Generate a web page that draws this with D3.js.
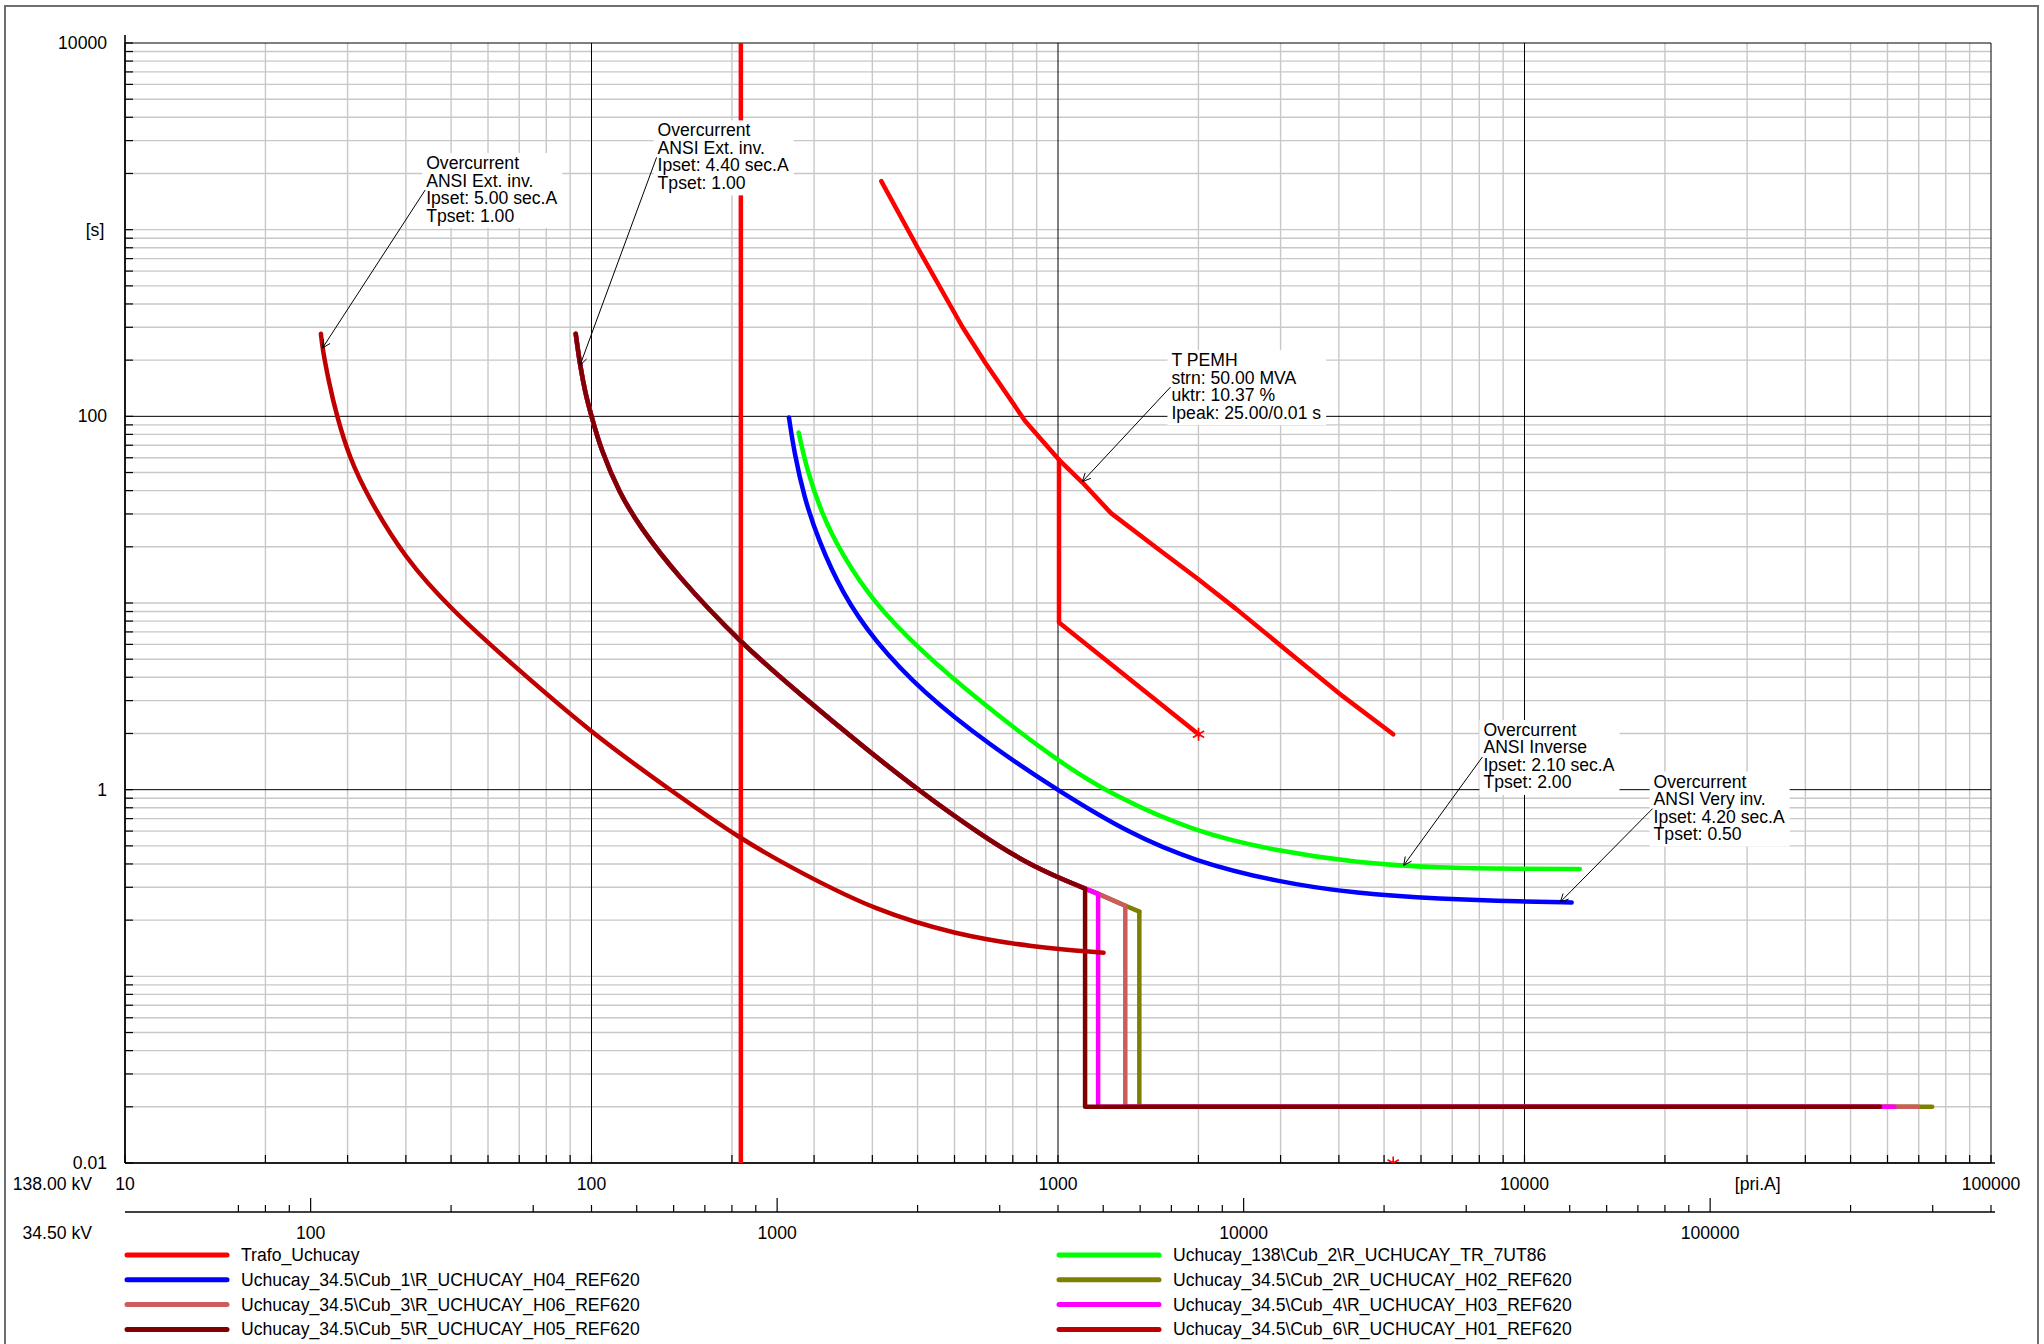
<!DOCTYPE html>
<html>
<head>
<meta charset="utf-8">
<script src="https://cdn.jsdelivr.net/npm/d3@7"></script>
<style>
body { margin: 0; background: #fff; }
text { font-family: "Liberation Sans", Arial, sans-serif; font-size: 17.6px; fill: #000; }
</style>
</head>
<body>
<div id="main"></div>
<script>
// ---- values (current in A at 138 kV, time in s) ----
var yLabelValues = [10000, 100, 1, 0.01];
var yLabelTexts = ["10000", "100", "1", "0.01"];
var xLabelValues = [10, 100, 1000, 10000, 100000];
var x2LabelValues = [100, 1000, 10000, 100000];
var voltageLabels = ["138.00 kV", "34.50 kV"];
var unitX = "[pri.A]";
var unitY = "[s]";

var seriesNames = [
  "Trafo_Uchucay",
  "Uchucay_138\\Cub_2\\R_UCHUCAY_TR_7UT86",
  "Uchucay_34.5\\Cub_1\\R_UCHUCAY_H04_REF620",
  "Uchucay_34.5\\Cub_2\\R_UCHUCAY_H02_REF620",
  "Uchucay_34.5\\Cub_3\\R_UCHUCAY_H06_REF620",
  "Uchucay_34.5\\Cub_4\\R_UCHUCAY_H03_REF620",
  "Uchucay_34.5\\Cub_5\\R_UCHUCAY_H05_REF620",
  "Uchucay_34.5\\Cub_6\\R_UCHUCAY_H01_REF620"
];
var seriesColors = ["#ff0000", "#00ff00", "#0000ff", "#808000", "#cd5c5c", "#ff00ff", "#800000", "#c00000"];

// transformer
var trafoRated = [[209, 0.01], [209, 10000]];
var trafoDamage = [[418, 1820], [501, 795], [624, 301], [700, 192], [850, 94.5], [1005, 58.5],
  [1127, 44.3], [1299, 30.3], [1634, 19.6], [1983, 13.6], [2408, 9.3], [3138, 5.4], [4089, 3.15], [5230, 1.98]];
var trafoThrough = [[1005, 58.5], [1005, 7.87], [2001, 1.98]];
var trafoMarks = [[2001, 1.98], [5230, 0.01]];

// 138 kV transformer relay
var tr7ut86 = [[278, 81.9], [289.5, 51.9], [309.6, 31.2], [344.5, 18.0], [404.6, 9.94], [501, 5.73],
  [673, 3.03], [1000, 1.415], [1314, 0.927], [1963, 0.594], [2934, 0.47], [4385, 0.4055],
  [6551, 0.3805], [9790, 0.3758], [13140, 0.3758]];

// 34.5 kV incomer H04
var h04 = [[265, 98.7], [272, 64.1], [285.6, 36.9], [305.4, 22.2], [344.5, 11.28], [404.6, 6.24],
  [514.6, 3.30], [710, 1.75], [1000, 0.987], [1424, 0.581], [1963, 0.414], [2934, 0.321],
  [4385, 0.277], [6551, 0.26], [10000, 0.2513], [12620, 0.249]];

// feeders H02, H06, H03, H05 share one inverse curve, differ by instantaneous step
var feederCurve = [[92.5, 277], [94.5, 187.7], [97, 132.7], [100, 100], [104.8, 66.3], [114.7, 38.9],
  [127.2, 25.4], [152.4, 14.1], [207.8, 6.17], [283.4, 3.16], [386, 1.668], [500, 1.0],
  [682, 0.574], [883, 0.385], [1143, 0.295], [1219, 0.277], [1394, 0.239], [1494, 0.222]];
var feederInst = [1494, 1394, 1219, 1143];
var feederEnd = [74800, 69700, 62100, 57800];
var feederDefTime = 0.02;

// feeder H01
var h01 = [[26.3, 277], [26.5, 232], [27.3, 156], [28.4, 101.6], [30.3, 59.6], [33.2, 36.9],
  [39.7, 17.5], [50.1, 9.2], [66.6, 4.85], [100, 2.01], [144.7, 1.03], [209.5, 0.538],
  [283, 0.355], [406, 0.2257], [600, 0.168], [883, 0.1433], [1252, 0.1338]];

var annoLines = [
  ["Overcurrent", "ANSI Ext. inv.", "Ipset: 5.00 sec.A", "Tpset: 1.00"],
  ["Overcurrent", "ANSI Ext. inv.", "Ipset: 4.40 sec.A", "Tpset: 1.00"],
  ["T PEMH", "strn: 50.00 MVA", "uktr: 10.37 %", "Ipeak: 25.00/0.01 s"],
  ["Overcurrent", "ANSI Inverse", "Ipset: 2.10 sec.A", "Tpset: 2.00"],
  ["Overcurrent", "ANSI Very inv.", "Ipset: 4.20 sec.A", "Tpset: 0.50"]
];
var annoAnchor = [[44.0, 1630], [137.9, 2440], [1742, 143.4], [8125, 1.497], [18820, 0.792]];
var annoTarget = [[26.5, 232], [94.5, 187.7], [1128, 44.7], [5508, 0.393], [11930, 0.25]];

var ctx = {
  w: 2044,
  h: 1344,
  left: 125,
  right: 1991,
  top: 43,
  bottom: 1163,
  axis2Y: 1212,
  kvRatio: 4   // 138 kV / 34.5 kV
};

var initSVGcanvas = function(svg){
  ctx.xScale = d3.scaleLog().domain([10, 100000]).range([ctx.left, ctx.right]);
  ctx.yScale = d3.scaleLog().domain([0.01, 10000]).range([ctx.bottom, ctx.top]);
  ctx.x2Scale = d3.scaleLog().domain([10 * ctx.kvRatio, 100000 * ctx.kvRatio]).range([ctx.left, ctx.right]);

  // outer frame
  svg.append("rect")
    .attr("x", 5).attr("y", 6)
    .attr("width", 2033).attr("height", 1360)
    .attr("fill", "none").attr("stroke", "#6e6e6e").attr("stroke-width", 2);

  var bkg = svg.append("g").attr("id", "bkgG");
  var xTicks = ctx.xScale.ticks();
  var yTicks = ctx.yScale.ticks();
  var isMajorX = function(v){ return Math.abs(Math.log10(v) - Math.round(Math.log10(v))) < 1e-9; };
  var isMajorY = function(v){
    var l = Math.log10(v);
    return Math.abs(l - Math.round(l)) < 1e-9 && Math.round(l) % 2 === 0;
  };

  // gray minor grid first
  bkg.selectAll("line.gx").data(xTicks.filter(function(v){ return !isMajorX(v); }))
    .enter().append("line").attr("class", "gx")
    .attr("x1", function(d){ return ctx.xScale(d); }).attr("x2", function(d){ return ctx.xScale(d); })
    .attr("y1", ctx.top).attr("y2", ctx.bottom)
    .attr("stroke", "#c8c8c8").attr("stroke-width", 1.4);
  bkg.selectAll("line.gy").data(yTicks.filter(function(v){ return !isMajorY(v); }))
    .enter().append("line").attr("class", "gy")
    .attr("y1", function(d){ return ctx.yScale(d); }).attr("y2", function(d){ return ctx.yScale(d); })
    .attr("x1", ctx.left).attr("x2", ctx.right)
    .attr("stroke", "#c8c8c8").attr("stroke-width", 1.4);

  // black major grid
  bkg.selectAll("line.mx").data(xTicks.filter(isMajorX))
    .enter().append("line").attr("class", "mx")
    .attr("x1", function(d){ return ctx.xScale(d); }).attr("x2", function(d){ return ctx.xScale(d); })
    .attr("y1", ctx.top).attr("y2", ctx.bottom)
    .attr("stroke", "#000").attr("stroke-width", 1);
  bkg.selectAll("line.my").data(yTicks.filter(isMajorY))
    .enter().append("line").attr("class", "my")
    .attr("y1", function(d){ return ctx.yScale(d); }).attr("y2", function(d){ return ctx.yScale(d); })
    .attr("x1", ctx.left).attr("x2", ctx.right)
    .attr("stroke", "#000").attr("stroke-width", 1);

  // inner ticks on left and bottom axes
  bkg.selectAll("line.ty").data(yTicks).enter().append("line")
    .attr("y1", function(d){ return ctx.yScale(d); }).attr("y2", function(d){ return ctx.yScale(d); })
    .attr("x1", ctx.left).attr("x2", ctx.left + 8)
    .attr("stroke", "#000").attr("stroke-width", 1.2);
  bkg.selectAll("line.tx").data(xTicks).enter().append("line")
    .attr("x1", function(d){ return ctx.xScale(d); }).attr("x2", function(d){ return ctx.xScale(d); })
    .attr("y1", ctx.bottom).attr("y2", ctx.bottom - 8)
    .attr("stroke", "#000").attr("stroke-width", 1.2);

  // axis lines
  bkg.append("line").attr("x1", ctx.left).attr("x2", ctx.left)
    .attr("y1", ctx.top - 8).attr("y2", ctx.bottom)
    .attr("stroke", "#000").attr("stroke-width", 1.6);
  bkg.append("line").attr("x1", ctx.left).attr("x2", ctx.right + 4)
    .attr("y1", ctx.bottom).attr("y2", ctx.bottom)
    .attr("stroke", "#000").attr("stroke-width", 1.6);

  // y labels
  bkg.selectAll("text.yl").data(yLabelValues).enter().append("text")
    .attr("x", ctx.left - 18)
    .attr("y", function(d){ return ctx.yScale(d) + 6; })
    .attr("text-anchor", "end")
    .text(function(d, i){ return yLabelTexts[i]; });
  bkg.append("text")
    .attr("x", 95).attr("y", ctx.yScale(1000) + 6)
    .attr("text-anchor", "middle").text(unitY);

  // primary x labels (138 kV)
  var xLabY = 1190;
  bkg.selectAll("text.xl").data(xLabelValues).enter().append("text")
    .attr("x", function(d){ return ctx.xScale(d); })
    .attr("y", xLabY)
    .attr("text-anchor", "middle")
    .text(function(d){ return d; });
  bkg.append("text")
    .attr("x", ctx.xScale(Math.sqrt(10000 * 100000))).attr("y", xLabY)
    .attr("text-anchor", "middle").text(unitX);
  bkg.append("text").attr("x", 92).attr("y", xLabY)
    .attr("text-anchor", "end").text(voltageLabels[0]);

  // secondary x axis (34.5 kV)
  bkg.append("line").attr("x1", ctx.left).attr("x2", ctx.right + 4)
    .attr("y1", ctx.axis2Y).attr("y2", ctx.axis2Y)
    .attr("stroke", "#000").attr("stroke-width", 1.6);
  var x2Ticks = ctx.x2Scale.ticks().filter(function(v){ return v >= 70; });
  bkg.selectAll("line.t2").data(x2Ticks).enter().append("line")
    .attr("x1", function(d){ return ctx.x2Scale(d); }).attr("x2", function(d){ return ctx.x2Scale(d); })
    .attr("y1", ctx.axis2Y)
    .attr("y2", function(d){ return isMajorX(d) ? ctx.axis2Y - 14 : ctx.axis2Y - 7; })
    .attr("stroke", "#000").attr("stroke-width", 1.2);
  bkg.selectAll("text.x2l").data(x2LabelValues).enter().append("text")
    .attr("x", function(d){ return ctx.x2Scale(d); })
    .attr("y", 1239)
    .attr("text-anchor", "middle")
    .text(function(d){ return d; });
  bkg.append("text").attr("x", 92).attr("y", 1239)
    .attr("text-anchor", "end").text(voltageLabels[1]);
};

var populateSVGcanvas = function(svg){
  svg.append("clipPath").attr("id", "plotClip")
    .append("rect")
    .attr("x", ctx.left).attr("y", ctx.top)
    .attr("width", ctx.right - ctx.left).attr("height", ctx.bottom - ctx.top);

  var smooth = d3.line()
    .x(function(d){ return ctx.xScale(d[0]); })
    .y(function(d){ return ctx.yScale(d[1]); })
    .curve(d3.curveBasis);
  var straight = d3.line()
    .x(function(d){ return ctx.xScale(d[0]); })
    .y(function(d){ return ctx.yScale(d[1]); });

  // each series: list of [points, generator]
  var feederPaths = function(i){
    var pts = feederCurve.filter(function(p){ return p[0] <= feederInst[i]; });
    var last = pts[pts.length - 1];
    var step = [last, [feederInst[i], feederDefTime], [feederEnd[i], feederDefTime]];
    return [[pts, smooth], [step, straight]];
  };
  var series = [
    [[trafoRated, straight], [trafoDamage, straight], [trafoThrough, straight]],
    [[tr7ut86, smooth]],
    [[h04, smooth]],
    feederPaths(0),
    feederPaths(1),
    feederPaths(2),
    feederPaths(3),
    [[h01, smooth]]
  ];

  var group = svg.append("g").attr("id", "rootG").attr("clip-path", "url(#plotClip)");
  series.forEach(function(parts, i){
    parts.forEach(function(p){
      group.append("path")
        .attr("d", p[1](p[0]))
        .attr("fill", "none")
        .attr("stroke", seriesColors[i])
        .attr("stroke-width", 4.5)
        .attr("stroke-linecap", "round")
        .attr("stroke-linejoin", "round");
    });
  });

  // asterisk marks of the transformer
  var r = 6.5, c = Math.cos(Math.PI / 6) * r, s = Math.sin(Math.PI / 6) * r;
  var star = `M0,${-r}L0,${r}M${-c},${-s}L${c},${s}M${-c},${s}L${c},${-s}`;
  group.selectAll("path.star").data(trafoMarks).enter().append("path")
    .attr("d", star)
    .attr("transform", function(d){ return `translate(${ctx.xScale(d[0])},${ctx.yScale(d[1])})`; })
    .attr("stroke", seriesColors[0]).attr("stroke-width", 1.6).attr("fill", "none");

  // annotations: white box, text, leader with open arrow
  var annoG = svg.append("g").attr("id", "annoG");
  annoLines.forEach(function(lines, i){
    var ax = ctx.xScale(annoAnchor[i][0]), ay = ctx.yScale(annoAnchor[i][1]);
    var tx = ctx.xScale(annoTarget[i][0]), ty = ctx.yScale(annoTarget[i][1]);
    var g = annoG.append("g");
    var box = g.append("rect").attr("fill", "#fff");
    var maxW = 0;
    lines.forEach(function(t, k){
      var el = g.append("text")
        .attr("x", ax + 1)
        .attr("y", ay - 27 + 17.5 * k + 6)
        .text(t);
      maxW = Math.max(maxW, el.node().getComputedTextLength());
    });
    box.attr("x", ax - 3).attr("y", ay - 37)
      .attr("width", maxW + 9).attr("height", 75);
    g.append("line")
      .attr("x1", ax).attr("y1", ay).attr("x2", tx).attr("y2", ty)
      .attr("stroke", "#000").attr("stroke-width", 1);
    var ang = Math.atan2(ay - ty, ax - tx), len = 9;
    var arrow = `M${tx + len * Math.cos(ang + 0.45)},${ty + len * Math.sin(ang + 0.45)}L${tx},${ty}` +
                `L${tx + len * Math.cos(ang - 0.45)},${ty + len * Math.sin(ang - 0.45)}`;
    g.append("path").attr("d", arrow)
      .attr("fill", "none").attr("stroke", "#000").attr("stroke-width", 1);
  });

  // legend in two columns, reading order left-right
  var legG = svg.append("g").attr("id", "legG");
  var colX = [125, 1057], rowY = 1255, rowStep = 24.8;
  seriesNames.forEach(function(name, i){
    var x0 = colX[i % 2], y0 = rowY + rowStep * Math.floor(i / 2);
    legG.append("line")
      .attr("x1", x0 + 2).attr("x2", x0 + 102)
      .attr("y1", y0).attr("y2", y0)
      .attr("stroke", seriesColors[i]).attr("stroke-width", 5)
      .attr("stroke-linecap", "round");
    legG.append("text")
      .attr("x", x0 + 116).attr("y", y0 + 6)
      .text(name);
  });
};

var createViz = function(){
  var svgEl = d3.select("#main").append("svg")
    .attr("width", ctx.w)
    .attr("height", ctx.h);
  initSVGcanvas(svgEl);
  populateSVGcanvas(svgEl);
};

createViz();
</script>
</body>
</html>
